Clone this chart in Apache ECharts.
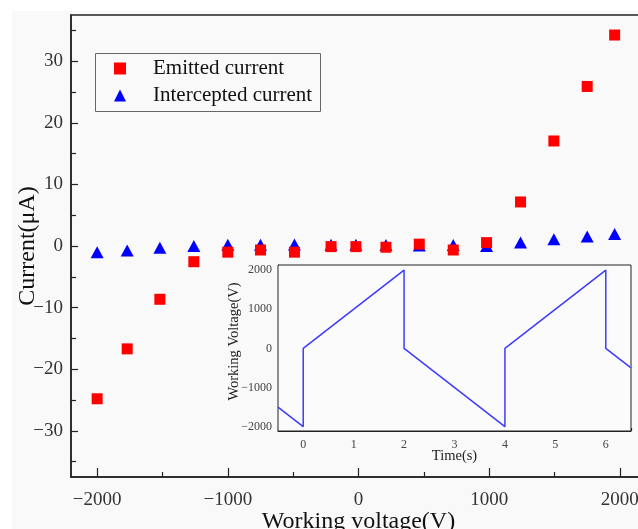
<!DOCTYPE html>
<html><head><meta charset="utf-8">
<script src="https://cdn.jsdelivr.net/npm/echarts@6/dist/echarts.min.js"></script>
<style>html,body{margin:0;padding:0;background:#fff}#c{width:638px;height:529px}</style>
</head><body><div id="c"></div>
<script>
// Main chart data
const voltages = [-2000,-1770,-1520,-1260,-1000,-750,-490,-210,-20,210,465,725,980,1240,1495,1750,1960];
const emitted = [-24.8,-16.7,-8.65,-2.55,-1.0,-0.65,-1.0,-0.1,-0.1,-0.2,0.3,-0.65,0.55,7.15,17.05,25.9,34.25];
const intercepted = [-1.0,-0.75,-0.3,0,0.2,0.2,0.25,0.2,0.2,0.15,0.1,0.15,0,0.57,1.1,1.54,1.95];
const xMajorTicks = [-2000,-1000,0,1000,2000];
const xMinorTicks = [-1500,-500,500,1500];
const yMajorTicks = [-30,-20,-10,0,10,20,30];
const yMinorTicks = [-35,-25,-15,-5,5,15,25,35];
// Inset data (sawtooth working voltage)
const timeS = [-0.5,0,0,2,2,4,4,6,6,6.5];
const workV = [-1500,-2000,0,2000,0,-2000,0,2000,0,-500];
const insetXMajor = [0,1,2,3,4,5,6];
const insetXMinor = [-0.5,0.5,1.5,2.5,3.5,4.5,5.5,6.5];
const insetYMajor = [-2000,-1000,0,1000,2000];
const insetYMinor = [-1500,-500,500,1500];

const F = 'Liberation Serif';
const minus = v => String(v).replace('-', '\u2212');
const chart = echarts.init(document.getElementById('c'));
function minorAxis(gridIndex, min, max, vals, len, pos) {
  return {type:'value', gridIndex, min, max, position:pos,
    axisLine:{show:false, onZero:false}, splitLine:{show:false}, axisLabel:{show:false},
    axisTick:{show:true, inside:true, length:len, customValues:vals, lineStyle:{color:'#222', width:1.2}}};
}
chart.setOption({
  backgroundColor:'#fff',
  animation:false,
  graphic:[
    {type:'rect', z:-10, shape:{x:12,y:11,width:640,height:530}, style:{fill:'#f9f9f9'}},
    {type:'rect', z:10, shape:{x:95.5,y:53.5,width:225,height:58}, style:{fill:'none', stroke:'#666', lineWidth:1}}
  ],
  grid:[
    {left:71, top:15, right:-8, bottom:52, show:true, borderColor:'#222', borderWidth:1.5, backgroundColor:'transparent', outerBoundsMode:'none', containLabel:false},
    {left:278, top:265, width:353, height:166, show:true, borderColor:'#222', borderWidth:1, backgroundColor:'#fbfbfb', z:5, outerBoundsMode:'none', containLabel:false}
  ],
  legend:{
    orient:'vertical', left:114, top:58, padding:0, itemGap:6, itemWidth:12, itemHeight:12,
    symbolKeepAspect:true,
    data:['Emitted current','Intercepted current'],
    textStyle:{fontFamily:F, fontSize:21, color:'#111', padding:[0,0,0,22]}
  },
  xAxis:[
    {type:'value', gridIndex:0, min:-2200, max:2200,
     name:'Working voltage(V)', nameLocation:'middle', nameGap:33, nameMoveOverlap:false,
     nameTextStyle:{fontFamily:F, fontSize:24, color:'#111'},
     axisLine:{onZero:false, lineStyle:{color:'#222', width:1.5}},
     axisTick:{inside:true, length:9, customValues:xMajorTicks, lineStyle:{color:'#222', width:1.2}},
     axisLabel:{customValues:xMajorTicks, formatter:minus, fontFamily:F, fontSize:19, color:'#333', margin:14},
     splitLine:{show:false}},
    minorAxis(0,-2200,2200,xMinorTicks,5,'bottom'),
    {type:'value', gridIndex:1, min:-0.5, max:6.5,
     name:'Time(s)', nameLocation:'middle', nameGap:18, nameMoveOverlap:false,
     nameTextStyle:{fontFamily:F, fontSize:14.5, color:'#222'},
     axisLine:{onZero:false, lineStyle:{color:'#222', width:1}},
     axisTick:{inside:true, length:5, customValues:insetXMajor, lineStyle:{color:'#222'}},
     axisLabel:{customValues:insetXMajor, fontFamily:F, fontSize:12, color:'#444', margin:8},
     splitLine:{show:false}},
    minorAxis(1,-0.5,6.5,insetXMinor,3,'bottom')
  ],
  yAxis:[
    {type:'value', gridIndex:0, min:-37.5, max:37.5,
     name:'Current(\u03bcA)', nameLocation:'middle', nameGap:31, nameMoveOverlap:false,
     nameTextStyle:{fontFamily:F, fontSize:24, color:'#111'},
     axisLine:{onZero:false, lineStyle:{color:'#222', width:1.5}},
     axisTick:{inside:true, length:7, customValues:yMajorTicks, lineStyle:{color:'#222', width:1.2}},
     axisLabel:{customValues:yMajorTicks, formatter:minus, fontFamily:F, fontSize:19, color:'#333', margin:8},
     splitLine:{show:false}},
    minorAxis(0,-37.5,37.5,yMinorTicks,5,'left'),
    {type:'value', gridIndex:1, min:-2110, max:2130,
     name:'Working Voltage(V)', nameLocation:'middle', nameGap:36, nameMoveOverlap:false,
     nameTextStyle:{fontFamily:F, fontSize:14.5, color:'#222', padding:[0,0,0,13]},
     axisLine:{onZero:false, lineStyle:{color:'#222', width:1}},
     axisTick:{inside:true, length:5, customValues:insetYMajor, lineStyle:{color:'#222'}},
     axisLabel:{customValues:insetYMajor, formatter:minus, fontFamily:F, fontSize:12, color:'#444', margin:6},
     splitLine:{show:false}},
    minorAxis(1,-2110,2130,insetYMinor,3,'left')
  ],
  series:[
    {name:'Intercepted current', type:'scatter', xAxisIndex:0, yAxisIndex:0, z:2,
     symbol:'triangle', symbolSize:[13,12], itemStyle:{color:'#0000ff', opacity:1},
     data:voltages.map((v,i)=>[v,intercepted[i]])},
    {name:'Emitted current', type:'scatter', xAxisIndex:0, yAxisIndex:0, z:3,
     symbol:'rect', symbolSize:11, itemStyle:{color:'#ff0000', opacity:1},
     data:voltages.map((v,i)=>[v,emitted[i]])},
    {name:'Working voltage', type:'line', xAxisIndex:2, yAxisIndex:2, z:6,
     showSymbol:false, symbol:'none', lineStyle:{color:'#3c3cff', width:1.5},
     data:timeS.map((t,i)=>[t,workV[i]])}
  ]
});
</script></body></html>
